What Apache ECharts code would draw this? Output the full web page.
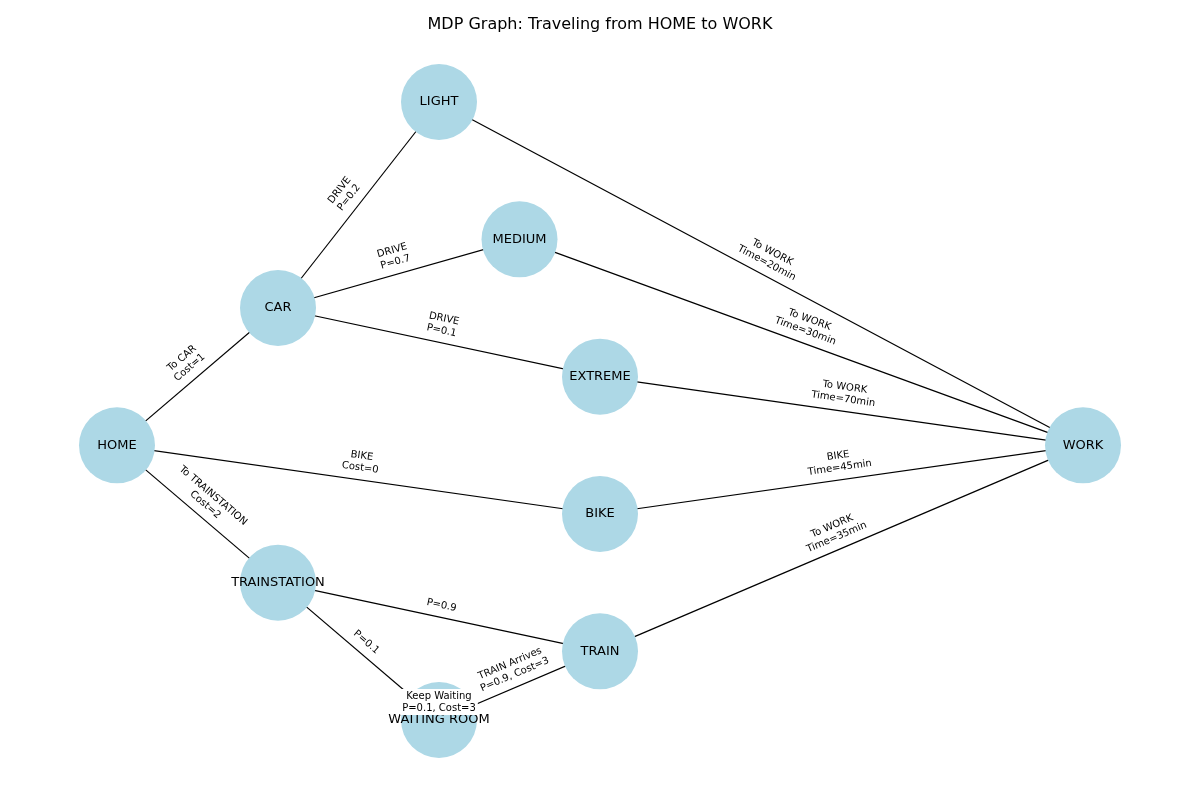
<!DOCTYPE html>
<html lang="en">
<head>
    <meta charset="utf-8"/>
    <title>MDP Graph</title>
    <script src="https://cdn.jsdelivr.net/npm/echarts@6/dist/echarts.min.js"></script>
    <style>
        html, body { height: 100%; margin: 0; background: #fff; }
        .chart { width: 1200px; height: 800px; }
    </style>
</head>
<body>
<div class="chart"></div>
<script>
    // node names and their layout positions (layout units)
    const nodeNames = ["HOME", "CAR", "LIGHT", "MEDIUM", "EXTREME", "BIKE", "TRAINSTATION", "TRAIN", "WAITING ROOM", "WORK"];
    const nodeX = [0, 1, 2, 2.5, 3, 3, 1, 3, 2, 6];
    const nodeY = [0, 1, 2.5, 1.5, 0.5, -0.5, -1, -1.5, -2, 0];

    const edgeSource = ["HOME", "CAR", "CAR", "CAR", "LIGHT", "MEDIUM", "EXTREME", "HOME", "BIKE", "HOME", "TRAINSTATION", "TRAINSTATION", "WAITING ROOM", "WAITING ROOM", "TRAIN"];
    const edgeTarget = ["CAR", "LIGHT", "MEDIUM", "EXTREME", "WORK", "WORK", "WORK", "BIKE", "WORK", "TRAINSTATION", "TRAIN", "WAITING ROOM", "WAITING ROOM", "TRAIN", "WORK"];
    const edgeLabels = [
        "To CAR\nCost=1", "DRIVE\nP=0.2", "DRIVE\nP=0.7", "DRIVE\nP=0.1",
        "To WORK\nTime=20min", "To WORK\nTime=30min", "To WORK\nTime=70min",
        "BIKE\nCost=0", "BIKE\nTime=45min", "To TRAINSTATION\nCost=2",
        "P=0.9", "P=0.1", "Keep Waiting\nP=0.1, Cost=3",
        "TRAIN Arrives\nP=0.9, Cost=3", "To WORK\nTime=35min"
    ];

    const chart = echarts.init(document.querySelector(".chart"));
    const nodes = nodeNames.map((n, i) => ({name: n, value: [nodeX[i], nodeY[i]]}));
    const links = edgeSource.map((s, i) => ({
        source: s,
        target: edgeTarget[i],
        label: {show: true, formatter: edgeLabels[i]},
        lineStyle: s === edgeTarget[i] ? {curveness: 0.6} : {}
    }));

    chart.setOption({
        animation: false,
        title: {
            text: "MDP Graph: Traveling from HOME to WORK",
            left: "center",
            top: 12,
            textStyle: {fontSize: 16, fontWeight: "normal", color: "#000", fontFamily: "DejaVu Sans"}
        },
        grid: {left: 117, right: 117, top: 102, bottom: 80},
        xAxis: {type: "value", min: 0, max: 6, show: false},
        yAxis: {type: "value", min: -2, max: 2.5, show: false},
        series: [{
            type: "graph",
            coordinateSystem: "cartesian2d",
            symbolSize: 76,
            itemStyle: {color: "#add8e6"},
            label: {show: true, color: "#000", fontSize: 13, fontFamily: "DejaVu Sans"},
            edgeLabel: {
                show: true,
                position: "middle",
                fontSize: 10,
                color: "#000",
                lineHeight: 12,
                align: "center",
                fontFamily: "DejaVu Sans",
                backgroundColor: "#fff",
                padding: [1, 2]
            },
            lineStyle: {color: "#000", width: 1.2, opacity: 1},
            z: 2,
            data: nodes,
            links: links
        }]
    });
</script>
</body>
</html>
